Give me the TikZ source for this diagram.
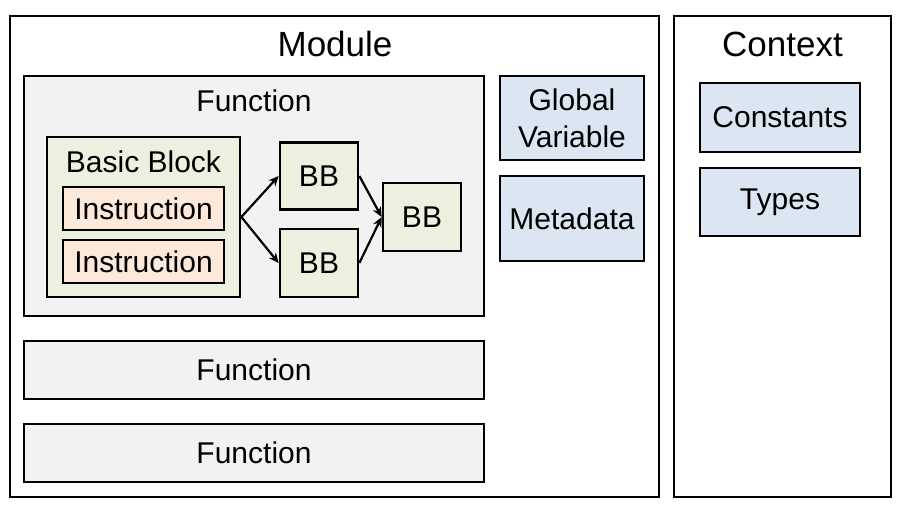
\documentclass[tikz,border=0pt]{standalone}
\usepackage{fontspec}
\setmainfont{Liberation Sans}
\usepackage{tikz}
\usetikzlibrary{arrows.meta,positioning}
\definecolor{funcgray}{HTML}{F2F2F2}
\definecolor{blockgreen}{HTML}{EBF1DE}
\definecolor{instpeach}{HTML}{FDE9D9}
\definecolor{globalblue}{HTML}{DCE6F2}

\begin{document}
\begin{tikzpicture}[x=1pt,y=-1pt,
    box/.style={draw=black, line width=2.7pt, rectangle, inner sep=0pt, align=center,
      font=\fontsize{30}{34}\selectfont},
    frame/.style={draw=black, line width=2.3pt, rectangle, inner sep=0pt},
    title/.style={font=\fontsize{35}{40}\selectfont, inner sep=0pt},
    label/.style={font=\fontsize{30}{34}\selectfont, inner sep=0pt},
    flow/.style={line width=2.2pt, -{Stealth[length=10pt,width=9pt]}}]
    \useasboundingbox (0,0) rectangle (897,505);

    % Outer frames
    \node[frame, minimum width=649pt, minimum height=481pt] (module) at (334.5,256.5) {};
    \node[frame, minimum width=217pt, minimum height=481pt] (context) at (782.5,256.5) {};
    \node[title] (moduletitle) at (335,44) {Module};
    \node[title] (contexttitle) at (782.5,44) {Context};

    % Function with basic blocks
    \node[box, fill=funcgray, minimum width=460pt, minimum height=240pt] (func) at (254,196) {};
    \node[label] (functitle) at (254,101) {Function};
    \node[box, fill=blockgreen, minimum width=193pt, minimum height=160pt] (bblock) at (143.5,217) {};
    \node[label] (bblocktitle) at (143.5,162) {Basic Block};
    \node[box, fill=instpeach, minimum width=161pt, minimum height=43pt] (inst1) at (143.5,208.5) {Instruction};
    \node[box, fill=instpeach, minimum width=161pt, minimum height=43pt] (inst2) at (143.5,261.5) {Instruction};
    \node[box, fill=blockgreen, minimum width=78pt, minimum height=67pt] (bb1) at (319,176) {BB};
    \node[box, fill=blockgreen, minimum width=78pt, minimum height=68pt] (bb2) at (319,263) {BB};
    \node[box, fill=blockgreen, minimum width=78pt, minimum height=68pt] (bb3) at (422,217) {BB};

    % Control flow
    \draw[flow] (bblock.east) -- (bb1.west);
    \draw[flow] (bblock.east) -- (bb2.west);
    \draw[flow] (bb1.east) -- (bb3.west);
    \draw[flow] (bb2.east) -- (bb3.west);

    % Other functions
    \node[box, fill=funcgray, minimum width=460pt, minimum height=58pt] (func2) at (254,370) {Function};
    \node[box, fill=funcgray, minimum width=460pt, minimum height=58pt] (func3) at (254,453) {Function};

    % Globals
    \node[box, fill=globalblue, minimum width=144pt, minimum height=84pt] (gvar) at (572,118) {Global\\[3pt]Variable};
    \node[box, fill=globalblue, minimum width=144pt, minimum height=85pt] (meta) at (572,218.5) {Metadata};

    % Context contents
    \node[box, fill=globalblue, minimum width=160pt, minimum height=69pt] (const) at (780,117.5) {Constants};
    \node[box, fill=globalblue, minimum width=160pt, minimum height=68pt] (types) at (780,202) {Types};
\end{tikzpicture}
\end{document}
